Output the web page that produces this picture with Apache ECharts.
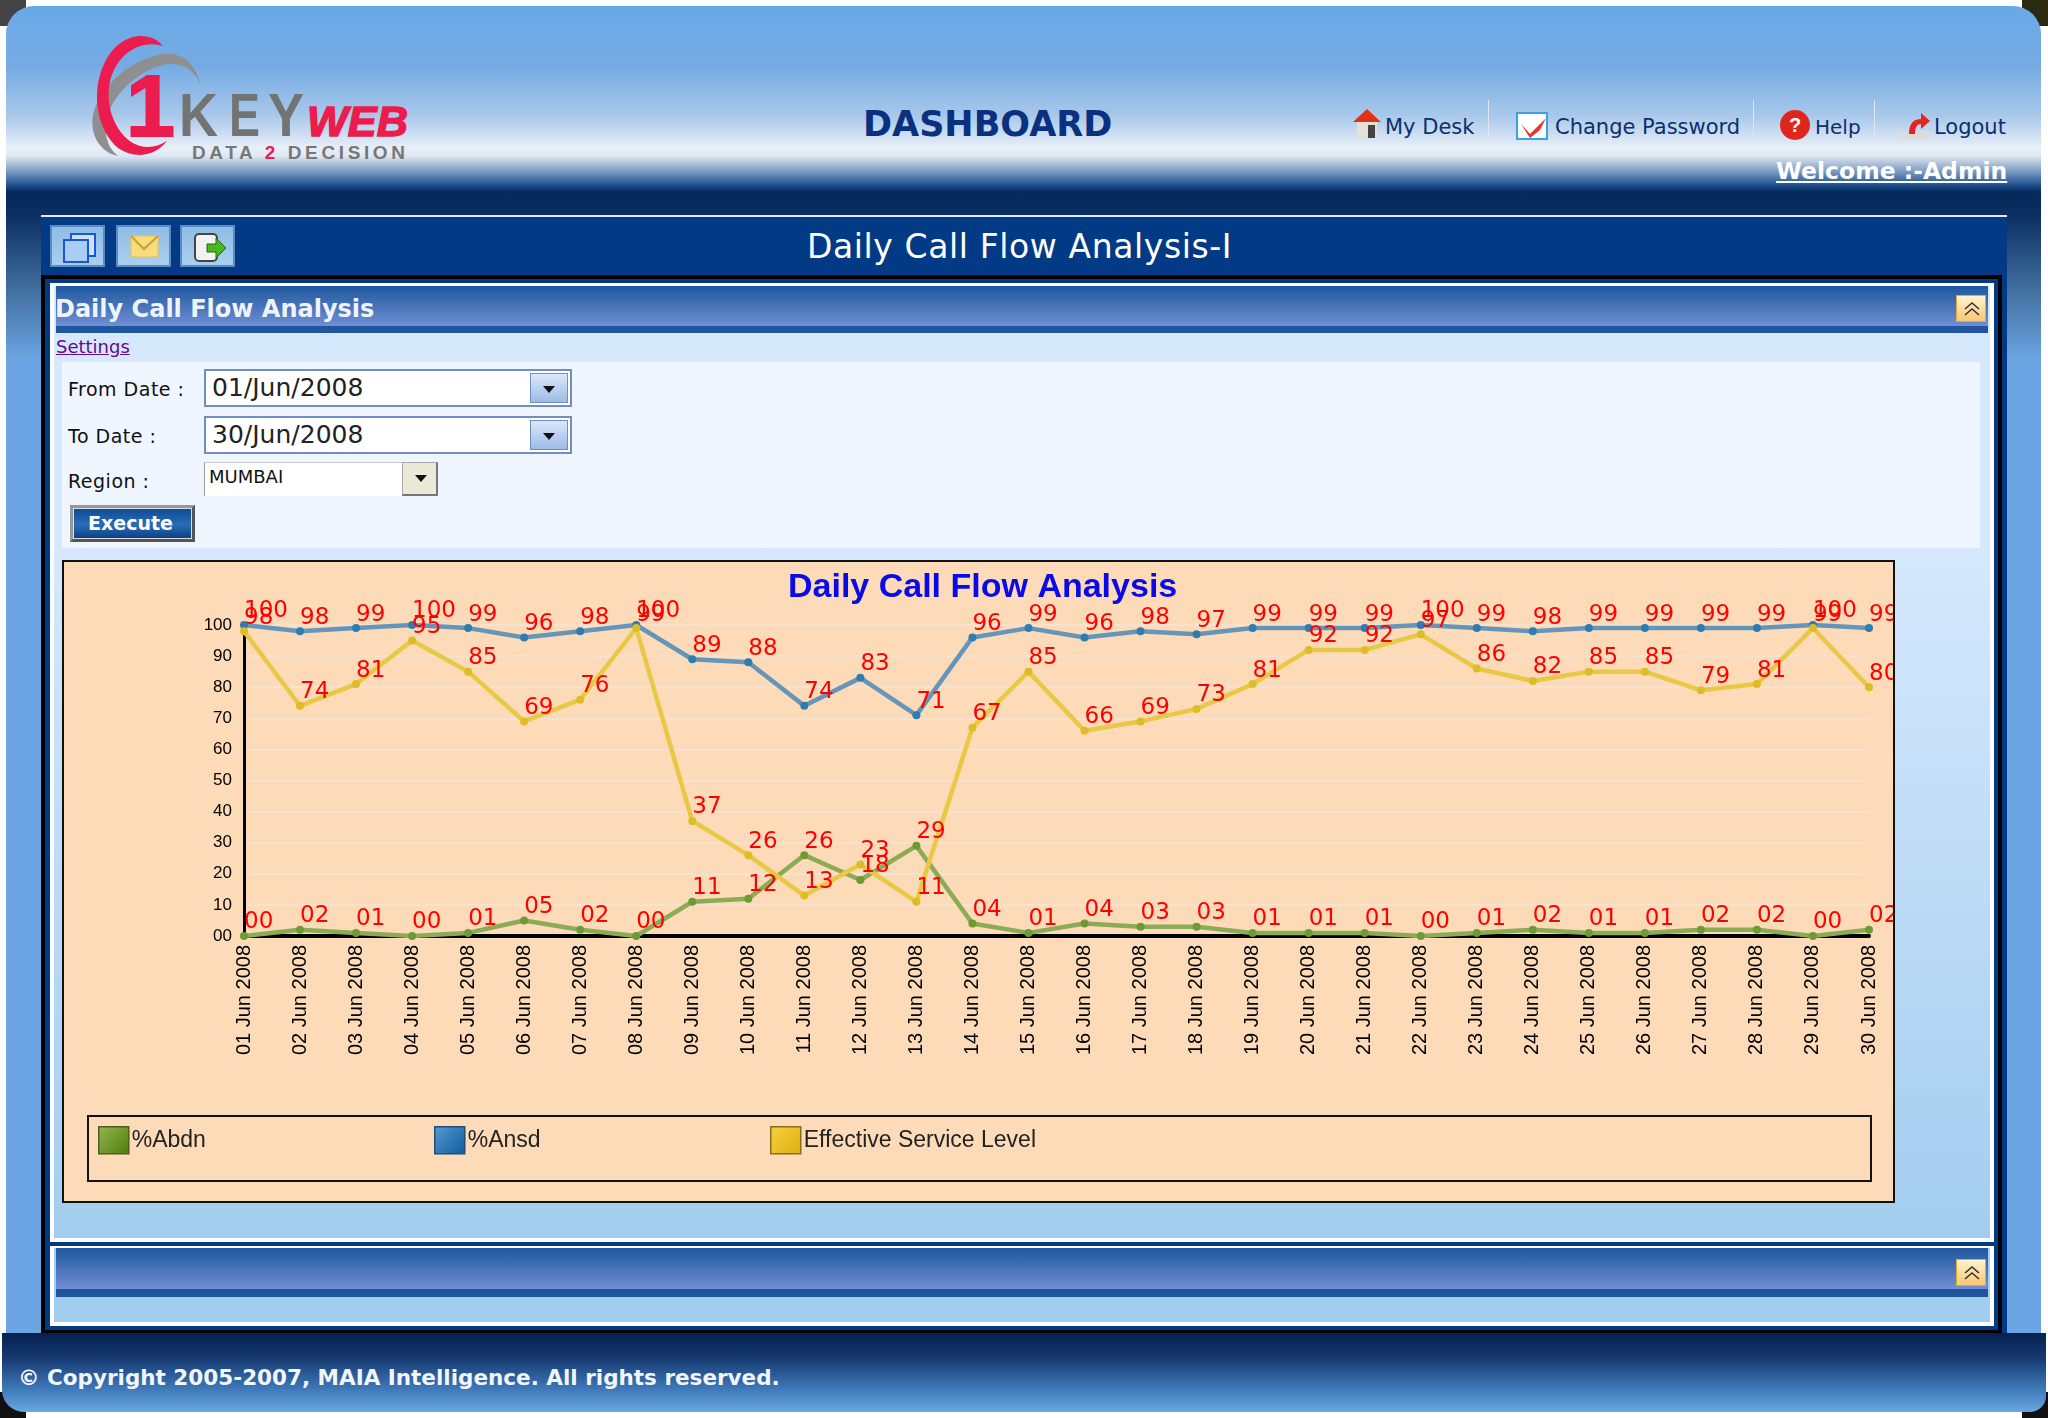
<!DOCTYPE html>
<html>
<head>
<meta charset="utf-8">
<title>Daily Call Flow Analysis</title>
<script src="https://cdn.jsdelivr.net/npm/echarts@6/dist/echarts.min.js"></script>
<style>
  html, body { margin: 0; padding: 0; background: #fff; }
  body { width: 2048px; height: 1418px; position: relative; overflow: hidden; font-family: "DejaVu Sans", sans-serif; }
  .abs { position: absolute; white-space: nowrap; }
  .corner { position: absolute; width: 26px; height: 26px; }
  #page { position: absolute; left: 6px; top: 6px; width: 2035px; height: 1328px; border-radius: 28px 28px 0 0; overflow: hidden;
    background: linear-gradient(to bottom, #69a9e8 0, #75abe3 60px, #a9c8ea 110px, #e8eff8 142px, #dfe8f2 150px, #7d9dc2 165px, #1a4c8c 180px, #06285a 186px, #0b2f63 209px, #426f9f 284px, #6ba5e3 354px, #6ba5e3 100%); }
  #titleBar { position: absolute; left: 41px; top: 215px; width: 1966px; height: 61px; background: #023a86; border-top: 2px solid #dfe9f6; box-sizing: border-box; }
  #navyEdge { position: absolute; left: 2002px; top: 275px; width: 5px; height: 1059px; background: #023a86; }
  #frame { position: absolute; left: 41px; top: 275px; width: 1961px; height: 1059px; background: #000; border: 4px solid #000; box-sizing: border-box; }
  #frameIn { position: absolute; left: 45px; top: 279px; width: 1953px; height: 1051px; background: #023a86; }
  #panel1 { position: absolute; left: 50px; top: 283px; width: 1944px; height: 959px; box-sizing: border-box; border: 4px solid #fff; border-top-width: 3px;
    background: linear-gradient(to bottom, #d6e8fc 0, #d6e8fc 260px, #a3cdef 100%); }
  #panel2 { position: absolute; left: 50px; top: 1246px; width: 1944px; height: 80px; box-sizing: border-box; border: 4px solid #fff; border-top-width: 2px; background: #a3cdef; }
  .secHead { position: absolute; left: 56px; width: 1932px; background: linear-gradient(to bottom, #1e589f 0, #5078bd 60%, #6f90d5 100%); }
  .secStripe { position: absolute; left: 56px; width: 1932px; background: #1f569f; }
  .collapse { position: absolute; left: 1956px; width: 30px; height: 27px; box-sizing: border-box; border: 1px solid #e8a53c; background: linear-gradient(to bottom, #fff3cf, #f9c873); }
  #filter { position: absolute; left: 62px; top: 362px; width: 1918px; height: 186px; background: #f0f6ff; }
  .lbl { font: 19px/22px "DejaVu Sans", sans-serif; color: #111; letter-spacing: 0.5px; }
  .input { position: absolute; left: 204px; width: 368px; height: 38px; box-sizing: border-box; border: 2px solid #6f8fc4; background: #fff; font: 25px/34px "DejaVu Sans"; color: #222; padding-left: 6px; }
  .drop { position: absolute; right: 2px; top: 2px; width: 38px; height: 30px; box-sizing: border-box; border: 1px solid #6f8fc4; background: linear-gradient(to bottom, #dbe7fb, #9dbbe8); }
  .drop:after, #selBtn:after { content: ""; position: absolute; left: 12px; top: 12px; border: 6px solid transparent; border-top: 7px solid #111; }
  #sel { position: absolute; left: 204px; top: 462px; width: 234px; height: 34px; background: #fff; border-left: 1px solid #999; border-top: 1px solid #ccc; box-sizing: border-box; font: 18px/28px "DejaVu Sans"; padding-left: 4px; color: #111; }
  #selBtn { position: absolute; left: 402px; top: 462px; width: 36px; height: 34px; box-sizing: border-box; background: #ece9d8; border: 1px solid #aaa; border-bottom: 2px solid #777; border-right: 2px solid #777; }
  #exec { position: absolute; left: 70px; top: 505px; width: 125px; height: 37px; box-sizing: border-box; border: 3px solid #555; border-top-color: #999; border-left-color: #999; outline: 1px solid #ddd; outline-offset: -4px;
    background: linear-gradient(to bottom, #0e4a96, #2a6cb7 55%, #0a3d80); color: #fff; font: 700 19px/30px "DejaVu Sans"; text-align: center; text-indent: -4px; }
  .toolBtn { position: absolute; top: 225px; width: 55px; height: 42px; box-sizing: border-box; border: 2px solid #5a8cc0; background: linear-gradient(to bottom, #8fbde6, #a9d0ef); }
  #chartWrap { position: absolute; left: 62px; top: 560px; width: 1833px; height: 643px; box-sizing: border-box; border: 2px solid #111; background: #fddbb8; }
  #chart { width: 1829px; height: 639px; }
  #footer { position: absolute; left: 2px; top: 1333px; width: 2044px; height: 79px; border-radius: 0 0 16px 22px; background: linear-gradient(to bottom, #06204f 0, #14386f 30%, #3d77b7 70%, #69a9e0 100%); }
  .navLink { font: 21px/26px "DejaVu Sans", sans-serif; color: #0b2f6e; }
  .sep { position: absolute; top: 100px; width: 1px; height: 45px; background: #dfe7f2; }
  svg { position: absolute; overflow: visible; }
</style>
</head>
<body>
<div class="corner" style="left:0;top:0;background:#444"></div>
<div class="corner" style="left:2022px;top:0;background:#2a2a10"></div>
<div class="corner" style="left:0;top:1392px;background:#111"></div>
<div class="corner" style="left:2022px;top:1392px;background:#111"></div>
<div id="page"></div>
<div id="titleBar"></div>
<div id="navyEdge"></div>
<div id="frame"></div>
<div id="frameIn"></div>
<div id="panel1"></div>
<div id="panel2"></div>

<!-- logo -->
<svg style="left:0;top:0" width="500" height="200">
  <path d="M201 86 C195 60 178 50 158 55 C130 62 105 82 95 108 C87 130 98 152 118 156 C104 145 102 125 112 105 C125 82 150 65 170 64 C185 63 196 72 201 86 Z" fill="#8f8f8f"/>
  <path d="M163 46 C150 30 120 32 105 62 C90 92 97 130 118 148 C135 160 155 156 167 141 C150 152 130 148 118 128 C104 105 106 75 122 58 C134 45 150 42 163 46 Z" fill="#ec1c4f"/>
  <text x="126" y="136" font-family="Liberation Sans" font-weight="700" font-size="88" fill="#ec1c4f" stroke="#ec1c4f" stroke-width="2">1</text>
  <text x="179" y="136" font-family="Liberation Sans" font-weight="700" font-size="61" fill="#737373" textLength="39" lengthAdjust="spacingAndGlyphs">K</text>
  <text x="229" y="136" font-family="Liberation Sans" font-weight="700" font-size="61" fill="#737373" textLength="31" lengthAdjust="spacingAndGlyphs">E</text>
  <text x="268" y="136" font-family="Liberation Sans" font-weight="700" font-size="61" fill="#737373" textLength="36" lengthAdjust="spacingAndGlyphs">Y</text>
  <text x="307" y="136" font-family="Liberation Sans" font-weight="700" font-style="italic" font-size="43" fill="#ec1c4f" stroke="#ec1c4f" stroke-width="1.5" textLength="101" lengthAdjust="spacingAndGlyphs">WEB</text>
  <text x="192" y="159" font-family="Liberation Sans" font-weight="700" font-size="19" fill="#777" textLength="213"><tspan>DATA </tspan><tspan fill="#ec1c4f">2</tspan><tspan> DECISION</tspan></text>
</svg>

<div class="abs" style="left:863px;top:102px;font:700 35px/44px 'DejaVu Sans';color:#0a3080">DASHBOARD</div>

<svg style="left:1351px;top:108px" width="32" height="32"><path d="M2 14 L16 1 L30 14 Z" fill="#e23214"/><rect x="6" y="14" width="20" height="16" fill="#e6e0d6"/><rect x="17" y="17" width="7" height="13" fill="#444"/></svg>
<div class="abs navLink" style="left:1385px;top:114px">My Desk</div>
<div class="sep" style="left:1488px"></div>
<svg style="left:1516px;top:112px" width="32" height="28"><rect x="1" y="1" width="30" height="26" fill="#fff" stroke="#3aa0e8" stroke-width="2"/><path d="M5 12 L14 22 L30 6 L24 18 L14 26 Z" fill="#e5352b"/></svg>
<div class="abs navLink" style="left:1555px;top:114px">Change Password</div>
<div class="sep" style="left:1753px"></div>
<svg style="left:1779px;top:110px" width="32" height="30"><circle cx="16" cy="15" r="15" fill="#e0261c"/><text x="16" y="22" text-anchor="middle" font-family="Liberation Sans" font-weight="700" font-size="20" fill="#fff">?</text></svg>
<div class="abs navLink" style="left:1815px;top:114px;font-size:20px">Help</div>
<div class="sep" style="left:1874px"></div>
<svg style="left:1899px;top:112px" width="32" height="28"><rect x="1" y="19" width="30" height="8" fill="#dcdcdc"/><path d="M10 22 C10 10 16 7 22 7 L22 1 L31 9 L22 17 L22 12 C18 12 16 15 16 22 Z" fill="#e5251c"/></svg>
<div class="abs navLink" style="left:1934px;top:114px">Logout</div>
<div class="abs" style="left:1776px;top:157px;font:700 23.5px/28px 'DejaVu Sans';color:#fff;text-decoration:underline">Welcome :-Admin</div>

<div class="toolBtn" style="left:50px"><svg style="left:10px;top:6px" width="36" height="30"><rect x="9" y="1" width="24" height="22" fill="#cfe2fb" stroke="#1a56d8" stroke-width="2"/><rect x="2" y="7" width="24" height="22" fill="#a9cdf4" stroke="#1a56d8" stroke-width="2"/></svg></div>
<div class="toolBtn" style="left:116px"><svg style="left:12px;top:8px" width="30" height="24"><rect x="1" y="1" width="27" height="21" fill="#f6dc7c" stroke="#e8c250"/><path d="M1 1 L14 14 L28 1" fill="none" stroke="#cf9f2a" stroke-width="2"/></svg></div>
<div class="toolBtn" style="left:180px"><svg style="left:10px;top:6px" width="36" height="30"><rect x="3" y="1" width="22" height="27" rx="4" fill="#f2f2f2" stroke="#444" stroke-width="2"/><path d="M15 11 L24 11 L24 5 L34 15 L24 25 L24 19 L15 19 Z" fill="#4bb71f" stroke="#1f6a10"/></svg></div>
<div class="abs" style="left:807px;top:225px;font:33px/44px 'DejaVu Sans';color:#fff;letter-spacing:0.6px">Daily Call Flow Analysis-I</div>

<div class="secHead" style="top:286px;height:40px"></div>
<div class="secStripe" style="top:326px;height:7px"></div>
<div class="abs" style="left:55px;top:294px;font:700 24px/30px 'DejaVu Sans';color:#eef4fc">Daily Call Flow Analysis</div>
<div class="collapse" style="top:295px"><svg style="left:7px;top:6px" width="16" height="14"><path d="M1 7 L8 1 L15 7 M1 13 L8 7 L15 13" fill="none" stroke="#333" stroke-width="1.5"/></svg></div>
<div class="abs" style="left:56px;top:336px;font:18px/22px 'DejaVu Sans';color:#660a8c;text-decoration:underline">Settings</div>

<div id="filter"></div>
<div class="abs lbl" style="left:68px;top:378px">From Date :</div>
<div class="input" style="top:369px">01/Jun/2008<div class="drop"></div></div>
<div class="abs lbl" style="left:68px;top:425px">To Date :</div>
<div class="input" style="top:416px">30/Jun/2008<div class="drop"></div></div>
<div class="abs lbl" style="left:68px;top:470px">Region :</div>
<div id="sel">MUMBAI</div><div id="selBtn"></div>
<div id="exec">Execute</div>

<div id="chartWrap"><div id="chart"></div></div>

<div class="secHead" style="top:1248px;height:41px"></div>
<div class="secStripe" style="top:1289px;height:8px"></div>
<div class="collapse" style="top:1259px"><svg style="left:7px;top:6px" width="16" height="14"><path d="M1 7 L8 1 L15 7 M1 13 L8 7 L15 13" fill="none" stroke="#333" stroke-width="1.5"/></svg></div>

<div id="footer"></div>
<div class="abs" style="left:18px;top:1364px;font:700 21.5px/28px 'DejaVu Sans';color:#f2f6fb">© Copyright 2005-2007, MAIA Intelligence. All rights reserved.</div>

<script>
// chart data
var categories = ['01 Jun 2008','02 Jun 2008','03 Jun 2008','04 Jun 2008','05 Jun 2008','06 Jun 2008','07 Jun 2008','08 Jun 2008','09 Jun 2008','10 Jun 2008',
  '11 Jun 2008','12 Jun 2008','13 Jun 2008','14 Jun 2008','15 Jun 2008','16 Jun 2008','17 Jun 2008','18 Jun 2008','19 Jun 2008','20 Jun 2008',
  '21 Jun 2008','22 Jun 2008','23 Jun 2008','24 Jun 2008','25 Jun 2008','26 Jun 2008','27 Jun 2008','28 Jun 2008','29 Jun 2008','30 Jun 2008'];
var abdn = [0,2,1,0,1,5,2,0,11,12,26,18,29,4,1,4,3,3,1,1,1,0,1,2,1,1,2,2,0,2];
var ansd = [100,98,99,100,99,96,98,100,89,88,74,83,71,96,99,96,98,97,99,99,99,100,99,98,99,99,99,99,100,99];
var serviceLevel = [98,74,81,95,85,69,76,99,37,26,13,23,11,67,85,66,69,73,81,92,92,97,86,82,85,85,79,81,99,80];

function pad2(v) {
  return v < 10 ? '0' + v : '' + v;
}

function lineSeries(name, data, lineColor, dotColor) {
  return {
    name: name,
    type: 'line',
    data: data,
    clip: false,
    symbol: 'circle',
    symbolSize: 8,
    showAllSymbol: true,
    lineStyle: { color: lineColor, width: 4.5 },
    itemStyle: { color: dotColor },
    label: {
      show: true,
      position: 'top',
      align: 'left',
      distance: 2,
      offset: [0, 4],
      color: '#ff0000',
      fontFamily: 'DejaVu Sans',
      fontSize: 23,
      formatter: function (p) { return pad2(p.value); }
    },
    animation: false
  };
}

function legendItem(name, left, from, to, edge) {
  return {
    left: left,
    top: 564,
    padding: 0,
    itemWidth: 30,
    itemHeight: 27,
    itemGap: 0,
    textStyle: { fontFamily: 'Liberation Sans', fontSize: 23, color: '#222', padding: [0, 0, 0, -2] },
    data: [{
      name: name,
      icon: 'rect',
      itemStyle: {
        color: new echarts.graphic.LinearGradient(0, 0, 1, 1, [{ offset: 0, color: from }, { offset: 1, color: to }]),
        borderColor: edge,
        borderWidth: 1.5
      }
    }]
  };
}

var myChart = echarts.init(document.getElementById('chart'));
myChart.setOption({
  animation: false,
  title: {
    text: 'Daily Call Flow Analysis',
    left: 719,
    top: 4,
    textStyle: { color: '#0a0ae6', fontFamily: 'Liberation Sans', fontWeight: 'bold', fontSize: 34 }
  },
  legend: [
    legendItem('%Abdn', 34, '#97b552', '#4f7c0a', '#4c5f1c'),
    legendItem('%Ansd', 370, '#5a9ad0', '#0e5aa0', '#1d4f78'),
    legendItem('Effective Service Level', 706, '#f5d240', '#e0ad10', '#8a6d1c')
  ],
  graphic: [{
    type: 'rect',
    shape: { x: 24, y: 554, width: 1783, height: 65 },
    style: { fill: 'none', stroke: '#111', lineWidth: 2 },
    silent: true
  }],
  grid: { left: 180, top: 63, width: 1625, height: 311 },
  xAxis: {
    type: 'category',
    boundaryGap: false,
    data: categories,
    axisLine: { lineStyle: { color: '#000', width: 4 } },
    axisTick: { show: false },
    axisLabel: {
      interval: 0,
      rotate: 90,
      margin: 9,
      padding: [0, 0, 4, 0],
      color: '#000',
      fontFamily: 'Liberation Sans',
      fontSize: 20,
      showMinLabel: true,
      showMaxLabel: true
    }
  },
  yAxis: {
    type: 'value',
    min: 0,
    max: 100,
    interval: 10,
    axisLine: { show: true, lineStyle: { color: '#000', width: 3 } },
    axisTick: { show: false },
    splitLine: { lineStyle: { color: '#f6e2cf', width: 2 } },
    axisLabel: {
      margin: 12,
      color: '#000',
      fontFamily: 'Liberation Sans',
      fontSize: 17,
      formatter: function (v) { return pad2(v); }
    }
  },
  series: [
    lineSeries('%Abdn', abdn, '#8cab57', '#6e9a35'),
    lineSeries('%Ansd', ansd, '#6596ba', '#2e7cb0'),
    lineSeries('Effective Service Level', serviceLevel, '#e9c845', '#ddbc25')
  ]
});
</script>
</body>
</html>
